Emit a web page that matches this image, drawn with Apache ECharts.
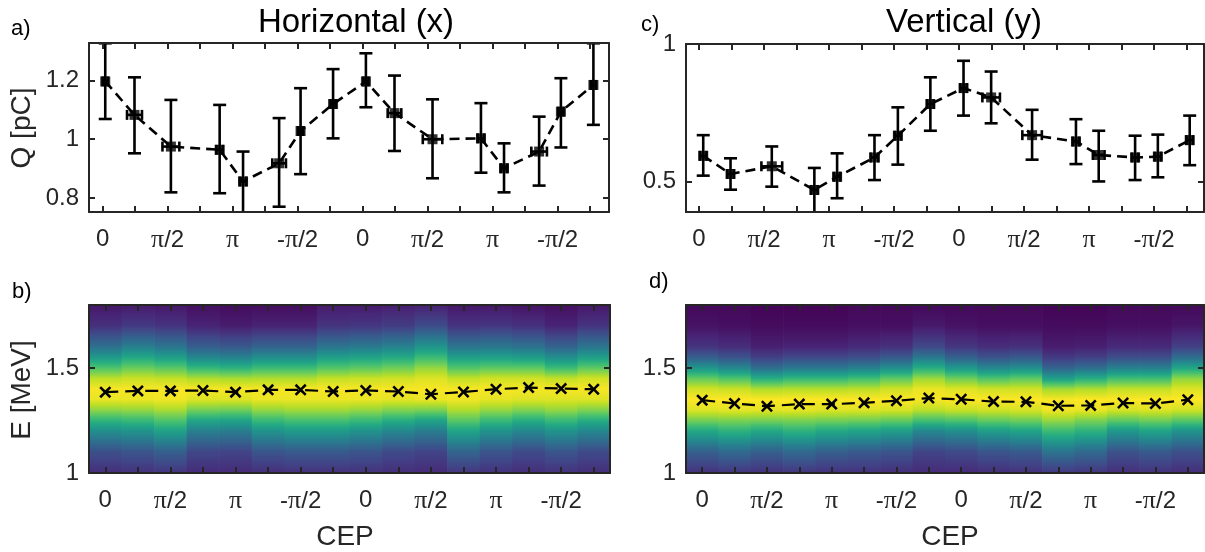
<!DOCTYPE html>
<html><head><meta charset="utf-8">
<script src="https://cdn.jsdelivr.net/npm/echarts@6/dist/echarts.min.js"></script>
<style>html,body{margin:0;padding:0;background:#fff}#c{width:1205px;height:552px}</style>
</head><body><div id="c"></div>
<script>
// ---------- tick labels ----------
const cepTicks = [0,1,2,3,4,5,6,7,8,9,10,11,12,13,14,15];
const cepLabelPos = [0,2,4,6,8,10,12,14];
const cepLabels = ['0','π/2','π','-π/2','0','π/2','π','-π/2'];
const qTicksA = [0.8, 1, 1.2];
const qTicksC = [0.5, 1];
const eTicks = [1, 1.5];

// ---------- panel a: horizontal charge ----------
const aX   = [0.08, 0.98, 2.10, 3.60, 4.32, 5.43, 6.09, 7.09, 8.10, 8.98, 10.15, 11.64, 12.35, 13.43, 14.10, 15.10];
const aQ   = [1.197, 1.083, 0.975, 0.964, 0.856, 0.918, 1.028, 1.120, 1.197, 1.089, 1.000, 1.003, 0.901, 0.958, 1.094, 1.185];
const aHi  = [1.327, 1.211, 1.134, 1.117, 0.958, 1.072, 1.174, 1.239, 1.293, 1.217, 1.136, 1.123, 0.986, 1.077, 1.208, 1.327];
const aLo  = [1.069, 0.952, 0.819, 0.816, 0.745, 0.770, 0.881, 1.003, 1.109, 0.960, 0.867, 0.886, 0.819, 0.842, 0.972, 1.049];
const aXer = [0.08, 0.23, 0.26, 0.10, 0.10, 0.21, 0.08, 0.08, 0.08, 0.21, 0.30, 0.10, 0.10, 0.24, 0.08, 0.08];

// ---------- panel c: vertical charge ----------
const cX   = [0.13, 0.97, 2.24, 3.55, 4.25, 5.40, 6.12, 7.12, 8.14, 8.99, 10.25, 11.60, 12.30, 13.42, 14.12, 15.10];
const cQ   = [0.594, 0.528, 0.556, 0.470, 0.518, 0.588, 0.667, 0.782, 0.840, 0.806, 0.669, 0.646, 0.597, 0.588, 0.591, 0.651];
const cHi  = [0.669, 0.585, 0.628, 0.550, 0.603, 0.669, 0.770, 0.879, 0.939, 0.900, 0.761, 0.727, 0.685, 0.667, 0.671, 0.740];
const cLo  = [0.522, 0.471, 0.482, 0.380, 0.440, 0.506, 0.562, 0.685, 0.740, 0.712, 0.580, 0.564, 0.501, 0.506, 0.516, 0.560];
const cXer = [0.10, 0.10, 0.32, 0.10, 0.10, 0.12, 0.10, 0.10, 0.10, 0.27, 0.30, 0.10, 0.18, 0.10, 0.10, 0.10];

// ---------- panels b, d: peak energies ----------
const bE = [1.385, 1.391, 1.391, 1.393, 1.385, 1.396, 1.396, 1.388, 1.393, 1.388, 1.375, 1.386, 1.399, 1.407, 1.402, 1.399];
const dE = [1.347, 1.331, 1.318, 1.328, 1.328, 1.334, 1.344, 1.357, 1.351, 1.340, 1.339, 1.320, 1.322, 1.333, 1.331, 1.349];

// ---------- spectra (normalised intensity at energies specE, one row per CEP step) ----------
const specE = [1.0, 1.1, 1.2, 1.25, 1.3, 1.35, 1.4, 1.45, 1.5, 1.55, 1.6, 1.7, 1.8];
const specB = [
  [.13,.24,.49,.65,.83,.97,.99,.90,.72,.54,.37,.14,.06],
  [.14,.26,.51,.67,.84,.97,.99,.92,.77,.60,.43,.17,.07],
  [.15,.30,.57,.72,.87,.98,.99,.91,.74,.56,.39,.15,.06],
  [.12,.21,.43,.59,.79,.95,.99,.88,.66,.46,.30,.10,.04],
  [.12,.20,.42,.58,.78,.95,.99,.87,.64,.44,.28,.08,.03],
  [.13,.26,.51,.67,.84,.97,.99,.88,.68,.49,.32,.10,.03],
  [.14,.28,.54,.70,.86,.97,.99,.88,.68,.49,.32,.10,.03],
  [.14,.28,.54,.70,.86,.97,.99,.91,.73,.56,.39,.15,.07],
  [.14,.26,.51,.67,.84,.97,.99,.92,.75,.58,.41,.16,.07],
  [.13,.22,.46,.62,.81,.96,.99,.93,.78,.61,.44,.18,.08],
  [.12,.20,.42,.58,.80,.97,.99,.95,.84,.68,.52,.23,.09],
  [.15,.32,.58,.74,.88,.98,.99,.91,.73,.56,.39,.15,.06],
  [.14,.26,.51,.67,.84,.96,.99,.93,.75,.57,.40,.16,.06],
  [.13,.22,.46,.62,.81,.95,.99,.93,.75,.55,.38,.14,.05],
  [.14,.26,.51,.67,.84,.95,.99,.91,.68,.49,.32,.10,.04],
  [.13,.22,.46,.62,.81,.95,.99,.93,.75,.56,.39,.15,.06]
];
const specD = [
  [.14,.30,.60,.79,.95,1.0,.93,.76,.52,.30,.15,.05,.02],
  [.15,.34,.64,.80,.96,1.0,.92,.72,.46,.26,.13,.04,.02],
  [.14,.30,.60,.79,.96,1.0,.88,.62,.36,.19,.09,.03,.01],
  [.15,.34,.64,.80,.96,1.0,.89,.66,.40,.22,.10,.03,.01],
  [.14,.30,.60,.79,.95,1.0,.89,.66,.40,.22,.10,.03,.01],
  [.14,.28,.58,.78,.95,1.0,.90,.69,.43,.24,.12,.04,.02],
  [.13,.26,.55,.76,.94,1.0,.93,.75,.49,.28,.14,.04,.02],
  [.12,.20,.46,.70,.90,.99,.97,.85,.62,.40,.22,.07,.02],
  [.12,.22,.49,.72,.92,1.0,.95,.78,.53,.31,.16,.05,.02],
  [.13,.26,.55,.76,.93,1.0,.93,.72,.46,.26,.13,.04,.02],
  [.14,.28,.58,.78,.94,1.0,.93,.75,.49,.28,.14,.04,.02],
  [.16,.38,.68,.84,.98,.99,.86,.56,.32,.17,.08,.03,.01],
  [.15,.34,.64,.80,.97,1.0,.88,.62,.36,.19,.09,.03,.01],
  [.13,.25,.53,.75,.94,1.0,.91,.69,.43,.24,.12,.04,.02],
  [.14,.28,.58,.78,.95,1.0,.91,.69,.43,.24,.12,.04,.02],
  [.13,.24,.51,.74,.93,1.0,.95,.83,.59,.36,.19,.06,.02]
];

// ---------- styling ----------
const AX = '#262626';
const FONT = '"Liberation Sans", Arial, Helvetica, sans-serif';
const VIR = [[68,1,84],[72,36,117],[65,68,135],[53,95,141],[42,120,142],[33,145,140],[34,168,132],[68,191,112],[122,209,81],[189,223,38],[253,231,37]];
function viridis(v){
  v = Math.max(0, Math.min(1, v));
  const f = v*10, i = Math.min(9, Math.floor(f)), t = f - i;
  const a = VIR[i], b = VIR[i+1];
  return 'rgb(' + [0,1,2].map(k => Math.round(a[k] + (b[k]-a[k])*t)).join(',') + ')';
}

const grids = [
  {left:89,  top:43,  width:520, height:169},
  {left:89,  top:305, width:521, height:168},
  {left:686, top:44,  width:518, height:168},
  {left:686, top:305, width:518, height:168}
];
const xRange = [[-0.42,15.58],[-0.5,15.5],[-0.4,15.54],[-0.5,15.5]];
const yRange = [[0.752,1.328],[1,1.8],[0.39,1],[1,1.8]];
const yTicks = [qTicksA, eTicks, qTicksC, eTicks];

const lineSt = {color:AX, width:2};
const xAxes = [], yAxes = [];
grids.forEach((g, gi) => {
  ['bottom','top'].forEach(pos => {
    xAxes.push({
      type:'value', gridIndex:gi, position:pos, min:xRange[gi][0], max:xRange[gi][1], z:10,
      axisLine:{show:true, onZero:false, lineStyle:lineSt},
      axisTick:{show:true, inside:true, length:6, customValues:cepTicks, lineStyle:lineSt},
      axisLabel:{show:pos==='bottom', customValues:cepLabelPos, margin:15, color:AX, fontSize:24, fontFamily:FONT,
        formatter: v => cepLabels[Math.round(v/2)].replace('π','{p|π}'),
        rich:{p:{fontFamily:'"Liberation Serif", serif', fontSize:26, color:AX}}},
      splitLine:{show:false}
    });
  });
  ['left','right'].forEach(pos => {
    yAxes.push({
      type:'value', gridIndex:gi, position:pos, min:yRange[gi][0], max:yRange[gi][1], z:10,
      axisLine:{show:true, onZero:false, lineStyle:lineSt},
      axisTick:{show:true, inside:true, length:6, customValues:yTicks[gi], lineStyle:lineSt},
      axisLabel:{show:pos==='left', customValues:yTicks[gi], margin:10, color:AX, fontSize:24, fontFamily:FONT,
        formatter: v => String(Math.round(v*10)/10)},
      splitLine:{show:false}
    });
  });
});

function errRender(params, api){
  const x = api.value(0), y = api.value(1), lo = api.value(2), hi = api.value(3), xe = api.value(4);
  const ph = api.coord([x, hi]), pl = api.coord([x, lo]);
  const pa = api.coord([x - xe, y]), pb = api.coord([x + xe, y]);
  const st = {stroke:'#000', lineWidth:2.6};
  const L = (x1,y1,x2,y2) => ({type:'line', shape:{x1,y1,x2,y2}, style:st});
  return {type:'group', children:[
    L(ph[0], ph[1], pl[0], pl[1]),
    L(ph[0]-6.5, ph[1], ph[0]+6.5, ph[1]),
    L(pl[0]-6.5, pl[1], pl[0]+6.5, pl[1]),
    L(pa[0], pa[1], pb[0], pb[1]),
    L(pa[0], pa[1]-5, pa[0], pa[1]+5),
    L(pb[0], pb[1]-5, pb[0], pb[1]+5)
  ]};
}

function heatRender(params, api){
  const i = api.value(0);
  const eMin = specE[0], eMax = specE[specE.length-1];
  const tl = api.coord([i - 0.5, eMax]);
  const br = api.coord([i + 0.5, eMin]);
  const stops = [];
  for (let k = 0; k < specE.length - 1; k++){
    const v0 = api.value(k+1), v1 = api.value(k+2);
    const n = 8;
    for (let s = (k === 0 ? 0 : 1); s <= n; s++){
      const t = s/n;
      const e = specE[k] + (specE[k+1]-specE[k])*t;
      stops.push({offset:(eMax - e)/(eMax - eMin), color: viridis(v0 + (v1-v0)*t)});
    }
  }
  stops.sort((a,b) => a.offset - b.offset);
  return {type:'rect', shape:{x:tl[0], y:tl[1], width:br[0]-tl[0]+0.7, height:br[1]-tl[1]},
          style:{fill:new echarts.graphic.LinearGradient(0,0,0,1,stops)}};
}

const XMARK = 'path://M1.5,0 L5,3.5 L8.5,0 L10,1.5 L6.5,5 L10,8.5 L8.5,10 L5,6.5 L1.5,10 L0,8.5 L3.5,5 L0,1.5 Z';

function chargeSeries(xi, yi, X, Q, Lo, Hi, Xe){
  return [
    {type:'line', xAxisIndex:xi, yAxisIndex:yi, data:X.map((x,k)=>[x,Q[k]]), symbol:'none', silent:true,
     lineStyle:{color:'#000', width:2.6, type:[10,6]}, z:3, clip:true},
    {type:'custom', xAxisIndex:xi, yAxisIndex:yi, renderItem:errRender, clip:true, silent:true, z:4,
     data:X.map((x,k)=>[x,Q[k],Lo[k],Hi[k],Xe[k]])},
    {type:'scatter', xAxisIndex:xi, yAxisIndex:yi, data:X.map((x,k)=>[x,Q[k]]), symbol:'rect', symbolSize:10,
     itemStyle:{color:'#000'}, silent:true, z:5}
  ];
}
function specSeries(xi, yi, spec, peaks){
  return [
    {type:'custom', xAxisIndex:xi, yAxisIndex:yi, renderItem:heatRender, clip:true, silent:true, z:1,
     data:spec.map((col,i)=>[i].concat(col))},
    {type:'line', xAxisIndex:xi, yAxisIndex:yi, data:peaks.map((e,i)=>[i,e]), symbol:XMARK, symbolSize:12,
     showSymbol:true, itemStyle:{color:'#000'}, lineStyle:{color:'#000', width:2.2, type:[13,7]}, silent:true, z:3}
  ];
}

const txt = (text, x, y, size, opts) => Object.assign({type:'text', x, y, silent:true, z:20,
  style:Object.assign({text, fill:'#000', fontSize:size, fontFamily:FONT, textAlign:'left', textVerticalAlign:'middle'}, opts && opts.style || {})},
  opts && opts.el || {});

const option = {
  animation:false,
  backgroundColor:'#fff',
  grid:grids,
  xAxis:xAxes,
  yAxis:yAxes,
  series:[]
    .concat(chargeSeries(0, 0, aX, aQ, aLo, aHi, aXer))
    .concat(specSeries(2, 2, specB, bE))
    .concat(chargeSeries(4, 4, cX, cQ, cLo, cHi, cXer))
    .concat(specSeries(6, 6, specD, dE)),
  graphic:[
    txt('a)', 11, 29, 22),
    txt('b)', 12, 292, 22),
    txt('c)', 641, 25, 22),
    txt('d)', 649, 282, 22),
    txt('Horizontal (x)', 356, 23, 33, {style:{textAlign:'center'}}),
    txt('Vertical (y)', 964, 23, 33, {style:{textAlign:'center'}}),
    txt('Q [pC]', 22, 128, 28, {style:{textAlign:'center', fill:AX}, el:{rotation:Math.PI/2}}),
    txt('E [MeV]', 22, 390, 28, {style:{textAlign:'center', fill:AX}, el:{rotation:Math.PI/2}}),
    txt('CEP', 345, 537, 28, {style:{textAlign:'center', fill:AX}}),
    txt('CEP', 950, 537, 28, {style:{textAlign:'center', fill:AX}})
  ]
};
const chart = echarts.init(document.getElementById('c'));
chart.setOption(option);
</script></body></html>
